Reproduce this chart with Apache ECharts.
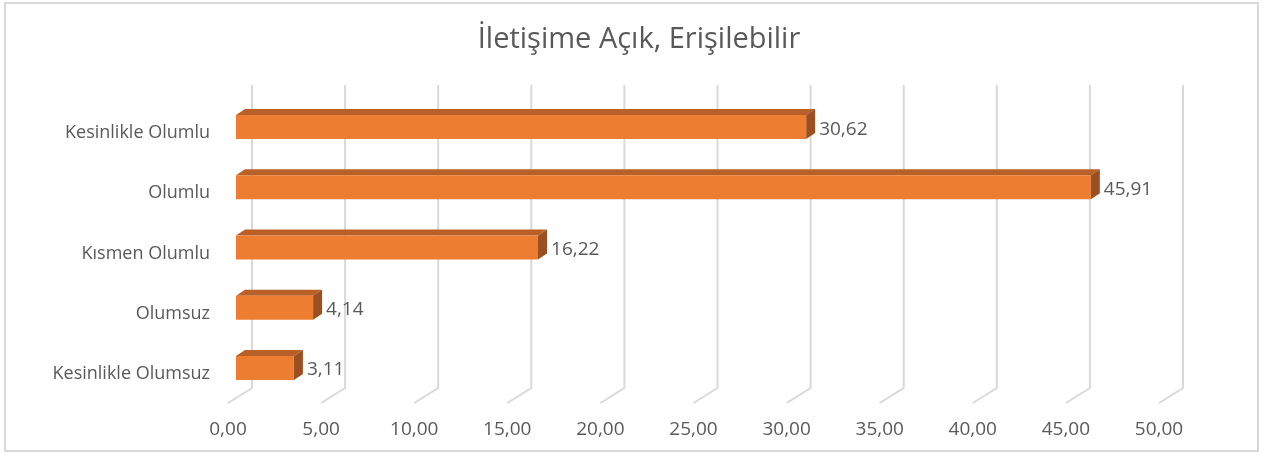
<!DOCTYPE html>
<html>
<head>
<meta charset="utf-8">
<script src="https://cdn.jsdelivr.net/npm/echarts@6/dist/echarts.min.js"></script>
<style>
  html, body { margin: 0; padding: 0; background: #fff; }
  #chart { width: 1264px; height: 457px; }
</style>
</head>
<body>
<div id="chart"></div>
<script>
// veriler
var categories = ["Kesinlikle Olumlu", "Olumlu", "Kısmen Olumlu", "Olumsuz", "Kesinlikle Olumsuz"];
var values = [30.62, 45.91, 16.22, 4.14, 3.11];
var ticks = [0, 5, 10, 15, 20, 25, 30, 35, 40, 45, 50];

var FONT = "'Open Sans', sans-serif";
var TEXT = "#595959";
var GRID = "#d9d9d9";
var DX = 9, DY = -6, H = 24; // 3B derinlik

function fmt(v) {
  return v.toFixed(2).replace(".", ",");
}

var chart = echarts.init(document.getElementById("chart"));

var option = {
  backgroundColor: "#fff",
  animation: false,
  title: {
    text: "İletişime Açık, Erişilebilir",
    left: 634,
    textAlign: "center",
    top: 20,
    textStyle: { color: TEXT, fontFamily: FONT, fontSize: 29, fontWeight: "normal" }
  },
  graphic: [{
    type: "rect",
    shape: { x: 5, y: 3, width: 1253, height: 448 },
    style: { fill: "none", stroke: GRID, lineWidth: 2 },
    silent: true
  }],
  grid: { left: 236, width: 931, top: 97, height: 301 },
  xAxis: {
    type: "value",
    min: 0, max: 50, interval: 5,
    axisLine: { show: false },
    axisTick: { show: false },
    splitLine: { show: false },
    axisLabel: {
      margin: 22,
      padding: [0, 16, 0, 0],
      color: TEXT, fontFamily: FONT, fontSize: 19,
      formatter: function (v) { return fmt(v); }
    }
  },
  yAxis: {
    type: "category",
    inverse: true,
    data: categories,
    axisLine: { show: false },
    axisTick: { show: false },
    splitLine: { show: false },
    axisLabel: {
      margin: 26,
      verticalAlign: "top",
      lineHeight: 12,
      color: TEXT, fontFamily: FONT, fontSize: 18
    }
  },
  series: [
    {
      // kılavuz çizgileri (arka düzlem + eğik alt kısım)
      type: "custom",
      z: 1,
      silent: true,
      data: ticks.map(function (t) { return [t, 0]; }),
      renderItem: function (params, api) {
        var cs = params.coordSys;
        var x = api.coord([api.value(0), 0])[0];
        var top = cs.y - 12, corner = cs.y + cs.height - 10, bot = cs.y + cs.height + 5;
        return {
          type: "polyline",
          shape: { points: [[x + 16, top], [x + 16, corner], [x - 8, bot]] },
          style: { stroke: GRID, lineWidth: 2, fill: null }
        };
      }
    },
    {
      type: "custom",
      z: 2,
      data: values.map(function (v, i) { return [v, i]; }),
      renderItem: function (params, api) {
        var p0 = api.coord([0, api.value(1)]);
        var p1 = api.coord([api.value(0), api.value(1)]);
        var x0 = p0[0], x1 = p1[0], y0 = p0[1] - H / 2;
        return {
          type: "group",
          children: [
            {
              type: "polygon",
              shape: { points: [[x0, y0], [x0 + DX, y0 + DY], [x1 + DX, y0 + DY], [x1, y0]] },
              style: { fill: "#b95f28" }
            },
            {
              type: "polygon",
              shape: { points: [[x1, y0], [x1 + DX, y0 + DY], [x1 + DX, y0 + H + DY], [x1, y0 + H]] },
              style: { fill: "#9c4f20" }
            },
            {
              type: "rect",
              shape: { x: x0, y: y0, width: x1 - x0, height: H },
              style: { fill: "#ed7d31" }
            },
            {
              type: "text",
              style: {
                text: fmt(api.value(0)),
                x: x1 + 13, y: y0 + H / 2 + 2,
                verticalAlign: "middle",
                fill: TEXT, font: "19px " + FONT
              }
            }
          ]
        };
      }
    }
  ]
};

chart.setOption(option);
window.addEventListener("resize", function () { chart.resize(); });
</script>
</body>
</html>
